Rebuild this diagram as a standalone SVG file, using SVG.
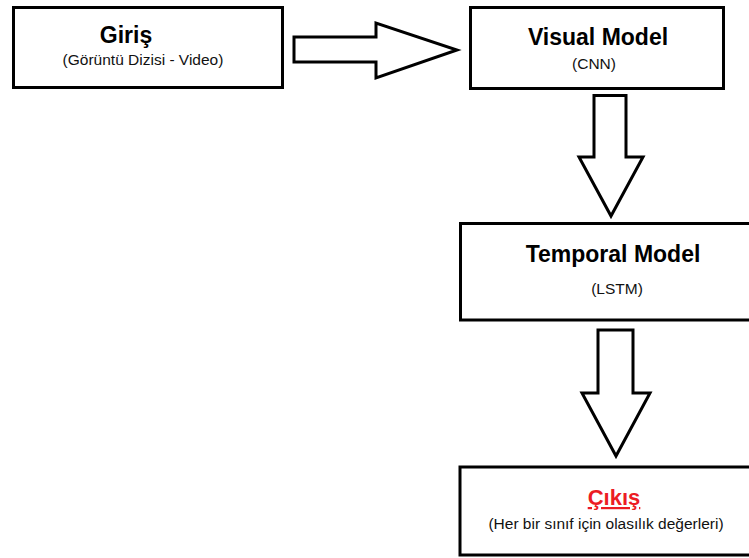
<svg xmlns="http://www.w3.org/2000/svg" width="749" height="558" viewBox="0 0 749 558">
  <style>
    .box { fill: #ffffff; stroke: #000000; stroke-width: 3; }
    .arrow { fill: #ffffff; stroke: #000000; stroke-width: 3; stroke-linejoin: miter; stroke-miterlimit: 10; }
    .title { font-family: "Liberation Sans", Arial, sans-serif; font-weight: bold; font-size: 23px; fill: #000000; text-anchor: middle; }
    .sub { font-family: "Liberation Sans", Arial, sans-serif; font-size: 15.5px; fill: #111111; text-anchor: middle; }
    .out { fill: #ec1c24; text-decoration: underline; font-size: 22px; }
  </style>
  <rect width="749" height="558" fill="#ffffff"/>

  <!-- block arrows between the stages -->
  <g id="connectors">
    <polygon class="arrow" points="294,37 376,37 376,23 457,50 376,78 376,62 294,62"/>
    <polygon class="arrow" points="594,95.5 626,95.5 626,157 643,157 611,216 579,157 594,157"/>
    <polygon class="arrow" points="598,330 633,330 633,393 650,393 616,456 582,393 598,393"/>
  </g>

  <g id="giris">
    <rect class="box" x="13.5" y="7.5" width="269" height="80"/>
    <text class="title" x="126" y="43">Giriş</text>
    <text class="sub" x="143" y="65">(Görüntü Dizisi - Video)</text>
  </g>

  <g id="visual-model">
    <rect class="box" x="470.5" y="7.5" width="253" height="81"/>
    <text class="title" x="598" y="45">Visual Model</text>
    <text class="sub" x="594" y="69">(CNN)</text>
  </g>

  <g id="temporal-model">
    <rect class="box" x="460.5" y="223.5" width="300" height="96.5"/>
    <text class="title" x="613" y="262">Temporal Model</text>
    <text class="sub" x="617" y="294">(LSTM)</text>
  </g>

  <g id="cikis">
    <rect class="box" x="460" y="467" width="300" height="88"/>
    <text class="title out" x="614" y="505">Çıkış</text>
    <text class="sub" x="606" y="529">(Her bir sınıf için olasılık değerleri)</text>
  </g>
</svg>
